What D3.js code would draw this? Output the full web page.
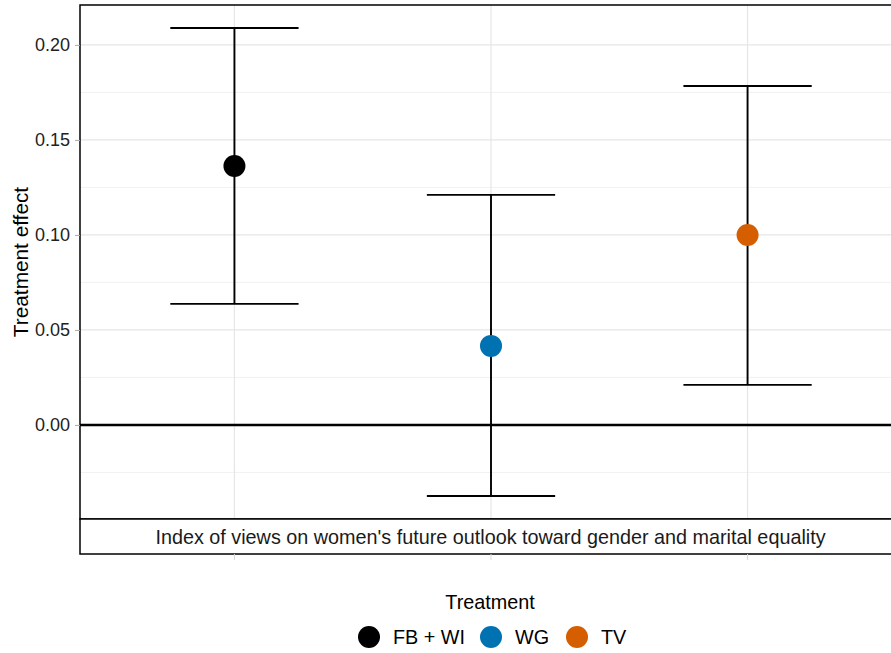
<!DOCTYPE html>
<html><head><meta charset="utf-8">
<script src="https://cdn.jsdelivr.net/npm/d3@7"></script>
<style>body{margin:0;background:#fff;}svg{display:block;font-family:"Liberation Sans",Arial,sans-serif;}</style>
</head><body><svg id="c" width="891" height="653"></svg>
<script>
const categories = ["FB + WI", "WG", "TV"];
const estimates = [0.1363, 0.0416, 0.1000];
const lowerCI = [0.0637, -0.0374, 0.0211];
const upperCI = [0.2089, 0.1211, 0.1784];
const colors = ["#000000", "#0072B2", "#D55E00"];
const yTicks = [0.00, 0.05, 0.10, 0.15, 0.20];
const yMinor = [-0.025, 0.025, 0.075, 0.125, 0.175];
const stripLabel = "Index of views on women's future outlook toward gender and marital equality";

(function () {
const svg = d3.select("#c");
const pL = 80, pR = 901, pT = 5, pB = 519, stripB = 554;
const y = d3.scaleLinear().domain([-0.0495, 0.221]).range([pB, pT]);
// ggplot discrete expansion of 0.6 units on both sides
const x = d3.scalePoint().domain(categories).range([pL + 0.5 + (pR - pL) * 0.6 / 3.2, pR + 0.5 - (pR - pL) * 0.6 / 3.2]);
const unit = (pR - pL) / 3.2;

const g = svg.append("g");
g.selectAll(".ym").data(yMinor).join("line")
  .attr("x1", pL).attr("x2", pR).attr("y1", d => y(d)).attr("y2", d => y(d))
  .attr("stroke", "#ebebeb").attr("stroke-width", 0.7);
g.selectAll(".yM").data(yTicks).join("line")
  .attr("x1", pL).attr("x2", pR).attr("y1", d => y(d)).attr("y2", d => y(d))
  .attr("stroke", "#e6e6e6").attr("stroke-width", 1.2);
g.selectAll(".xM").data(categories).join("line")
  .attr("x1", d => x(d)).attr("x2", d => x(d)).attr("y1", pT).attr("y2", pB)
  .attr("stroke", "#e6e6e6").attr("stroke-width", 1.2);
g.append("line").attr("x1", pL).attr("x2", pR).attr("y1", y(0)).attr("y2", y(0))
  .attr("stroke", "#000").attr("stroke-width", 2.6);
const half = unit * 0.25;
categories.forEach((c, i) => {
  const cx = x(c);
  g.append("line").attr("x1", cx).attr("x2", cx).attr("y1", y(lowerCI[i])).attr("y2", y(upperCI[i]))
    .attr("stroke", "#000").attr("stroke-width", 1.9);
  [lowerCI[i], upperCI[i]].forEach(v => {
    g.append("line").attr("x1", cx - half).attr("x2", cx + half).attr("y1", y(v)).attr("y2", y(v))
      .attr("stroke", "#000").attr("stroke-width", 1.9);
  });
});
g.selectAll(".pt").data(categories).join("circle")
  .attr("cx", d => x(d)).attr("cy", (d, i) => y(estimates[i])).attr("r", 11)
  .attr("fill", (d, i) => colors[i]);
g.append("rect").attr("x", pL).attr("y", pT).attr("width", pR - pL).attr("height", pB - pT)
  .attr("fill", "none").attr("stroke", "#000").attr("stroke-width", 1.5);
g.append("rect").attr("x", pL).attr("y", pB).attr("width", pR - pL).attr("height", stripB - pB)
  .attr("fill", "#fff").attr("stroke", "#000").attr("stroke-width", 1.5);
g.append("text").attr("x", 490.5).attr("y", (pB + stripB) / 2 + 1).attr("dy", "0.35em")
  .attr("text-anchor", "middle").attr("font-size", 19.8).attr("fill", "#1a1a1a").text(stripLabel);
g.selectAll(".xt").data(categories).join("line")
  .attr("x1", d => x(d)).attr("x2", d => x(d)).attr("y1", stripB).attr("y2", stripB + 6)
  .attr("stroke", "#d9d9d9").attr("stroke-width", 1);
const yAxis = d3.axisLeft(y).tickValues(yTicks).tickFormat(d3.format(".2f")).tickSize(5).tickPadding(5);
const ya = svg.append("g").attr("transform", `translate(${pL},0)`).call(yAxis);
ya.select(".domain").remove();
ya.attr("font-size", 18).attr("font-family", null);
ya.selectAll(".tick line").attr("stroke", "#aaaaaa").attr("stroke-width", 1);
ya.selectAll(".tick text").attr("font-size", 18).attr("fill", "#222");
svg.append("text").attr("transform", `translate(21,${(pT + pB) / 2}) rotate(-90)`).attr("dy", "0.35em")
  .attr("text-anchor", "middle").attr("font-size", 20.8).attr("fill", "#000").text("Treatment effect");
svg.append("text").attr("x", 490).attr("y", 602).attr("dy", "0.35em").attr("text-anchor", "middle")
  .attr("font-size", 19.8).attr("fill", "#000").text("Treatment");
const legX = [369, 491, 577];
categories.forEach((c, i) => {
  svg.append("circle").attr("cx", legX[i]).attr("cy", 637).attr("r", 11).attr("fill", colors[i]);
  svg.append("text").attr("x", legX[i] + 24).attr("y", 637).attr("dy", "0.35em")
    .attr("font-size", 19.8).attr("fill", "#000").text(c);
});
})();
</script></body></html>
